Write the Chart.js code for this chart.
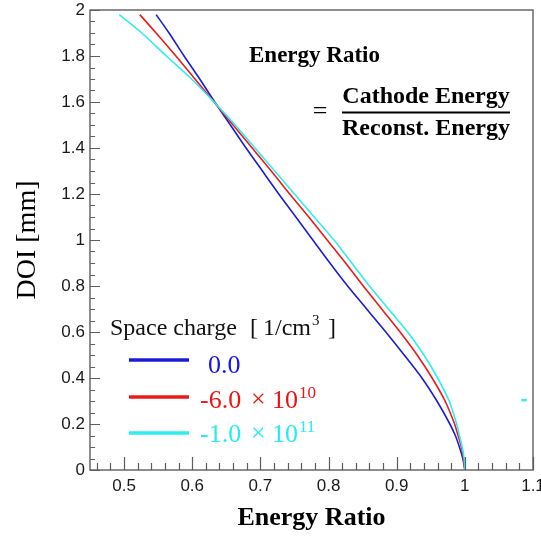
<!DOCTYPE html>
<html><head><meta charset="utf-8">
<script src="https://cdn.jsdelivr.net/npm/chart.js@4.4.1/dist/chart.umd.min.js"></script>
<style>html,body{margin:0;padding:0;background:#fff;overflow:hidden}</style>
</head><body>
<canvas id="c" width="541" height="539"></canvas>
<script>
// ---- data ----
const doi = [0, 0.05, 0.1, 0.15, 0.2, 0.3, 0.4, 0.5, 0.6, 0.7, 0.8, 0.9, 1.0, 1.1, 1.2, 1.3, 1.4, 1.5, 1.6, 1.7, 1.8, 1.9, 1.98];
const ratioSC0 = [1.0, 0.997, 0.992, 0.986, 0.978, 0.959, 0.937, 0.911, 0.884, 0.856, 0.828, 0.802, 0.777, 0.752, 0.727, 0.703, 0.679, 0.656, 0.633, 0.611, 0.588, 0.566, 0.547];
const ratioSC6e10 = [1.0, 0.998, 0.995, 0.990, 0.985, 0.971, 0.952, 0.930, 0.905, 0.878, 0.851, 0.825, 0.798, 0.771, 0.743, 0.716, 0.688, 0.660, 0.632, 0.604, 0.576, 0.547, 0.523];
const ratioSC1e11 = [1.0, 0.999, 0.996, 0.992, 0.988, 0.977, 0.960, 0.940, 0.916, 0.888, 0.860, 0.834, 0.808, 0.779, 0.750, 0.721, 0.692, 0.663, 0.632, 0.599, 0.562, 0.526, 0.493];
const strayMarkX = [1.083, 1.091];
const strayMarkY = [0.304, 0.304];
const seriesNames = ['0.0', '-6.0 × 10', '-1.0 × 10'];
const seriesExponents = ['', '10', '11'];
const xTickValues = [0.5, 0.6, 0.7, 0.8, 0.9, 1.0, 1.1];
const yTickValues = [0, 0.2, 0.4, 0.6, 0.8, 1.0, 1.2, 1.4, 1.6, 1.8, 2.0];

const COLORS = {blue: '#1c1cd4', red: '#ec1a1a', cyan: '#2eeef0'};
const TEXT_COLORS = {blue: '#1414f0', red: '#ee1212', cyan: '#22eef0'};

function pts(xs, ys) { return xs.map((x, i) => ({x: x, y: ys[i]})); }

const lineStyle = {showLine: true, pointRadius: 0, borderWidth: 1.6, tension: 0.3, fill: false};

const bgPlugin = {
  id: 'bg',
  beforeDraw(chart) {
    const ctx = chart.ctx;
    ctx.save(); ctx.fillStyle = '#fff'; ctx.fillRect(0, 0, chart.width, chart.height); ctx.restore();
  }
};

const framePlugin = {
  id: 'frame',
  afterDatasetsDraw(chart) {
    const {ctx, chartArea: a, scales: {x, y}} = chart;
    ctx.save();
    ctx.strokeStyle = '#5e5e5e';
    ctx.lineWidth = 1.4;
    ctx.strokeRect(a.left, a.top, a.right - a.left, a.bottom - a.top);
    ctx.lineWidth = 1.2;
    ctx.beginPath();
    for (let k = 23; k <= 55; k++) {
      const v = k * 0.02;
      if (v < x.min - 1e-9 || v > x.max + 1e-9) continue;
      const px = Math.round(x.getPixelForValue(v)) + 0.5;
      const major = (k % 5 === 0);
      ctx.moveTo(px, a.bottom);
      ctx.lineTo(px, a.bottom - (major ? 13 : 7));
    }
    for (let k = 0; k <= 40; k++) {
      const v = k * 0.05;
      const py = Math.round(y.getPixelForValue(v)) + 0.5;
      const major = (k % 4 === 0);
      ctx.moveTo(a.left, py);
      ctx.lineTo(a.left + (major ? 10 : 5), py);
    }
    ctx.stroke();
    ctx.restore();
  }
};

const annotPlugin = {
  id: 'annot',
  afterDraw(chart) {
    const ctx = chart.ctx;
    ctx.save();
    ctx.fillStyle = '#000';
    ctx.textBaseline = 'alphabetic';
    ctx.font = 'bold 23px "Liberation Serif"';
    ctx.textAlign = 'left';
    ctx.fillText('Energy Ratio', 249, 62);
    ctx.textAlign = 'center';
    ctx.font = 'bold 24px "Liberation Serif"';
    ctx.fillText('Cathode Energy', 426, 103);
    ctx.fillText('Reconst. Energy', 426, 135);
    ctx.fillRect(342, 111.5, 168, 2);
    ctx.font = '26px "Liberation Serif"';
    ctx.fillText('=', 320, 119);

    // legend header
    ctx.textAlign = 'left';
    ctx.font = '24px "Liberation Serif"';
    ctx.fillStyle = '#111';
    ctx.fillText('Space charge', 110, 335);
    ctx.fillText('[', 250, 335);
    ctx.fillText('1/cm', 263, 335);
    const wcm = ctx.measureText('1/cm').width;
    ctx.font = '15px "Liberation Serif"';
    ctx.fillText('3', 263 + wcm + 1, 325);
    ctx.font = '24px "Liberation Serif"';
    ctx.fillText(']', 328, 335);

    // legend entries
    const keys = ['blue', 'red', 'cyan'];
    const lineY = [360, 397, 433];
    const baseY = [373, 408, 442];
    keys.forEach((k, i) => {
      ctx.strokeStyle = COLORS[k];
      ctx.lineWidth = 3.5;
      ctx.beginPath();
      ctx.moveTo(129, lineY[i]);
      ctx.lineTo(189, lineY[i]);
      ctx.stroke();
      ctx.fillStyle = TEXT_COLORS[k];
      ctx.font = '26px "Liberation Serif"';
      const label = seriesNames[i];
      if (!seriesExponents[i]) {
        ctx.fillText(label, 208, baseY[i]);
      } else {
        const parts = label.split(' ');
        ctx.fillText(parts[0], 200, baseY[i]);
        ctx.fillText(parts[1], 251, baseY[i] - 1);
        ctx.fillText(parts[2], 272, baseY[i]);
        const w10 = ctx.measureText(parts[2]).width;
        ctx.font = '17px "Liberation Serif"';
        ctx.fillText(seriesExponents[i], 272 + w10 + 1, baseY[i] - 10);
      }
    });
    ctx.restore();
  }
};

new Chart(document.getElementById('c'), {
  type: 'scatter',
  data: {
    datasets: [
      Object.assign({label: seriesNames[2], data: pts(ratioSC1e11, doi), borderColor: COLORS.cyan, order: 0}, lineStyle),
      Object.assign({label: seriesNames[1], data: pts(ratioSC6e10, doi), borderColor: COLORS.red, order: 1}, lineStyle),
      Object.assign({label: seriesNames[0], data: pts(ratioSC0, doi), borderColor: COLORS.blue, order: 2}, lineStyle),
      Object.assign({label: 'mark', data: pts(strayMarkX, strayMarkY), borderColor: COLORS.cyan, order: 3}, lineStyle, {borderWidth: 2.5, tension: 0})
    ]
  },
  options: {
    responsive: false,
    animation: false,
    devicePixelRatio: 1,
    layout: {padding: {top: 10, right: 8, left: 0, bottom: 0}},
    plugins: {legend: {display: false}, tooltip: {enabled: false}},
    scales: {
      x: {
        type: 'linear', min: 0.45, max: 1.1,
        afterBuildTicks(scale) { scale.ticks = xTickValues.map(v => ({value: v})); },
        afterFit(scale) { scale.height = 69; scale.paddingLeft = 0; scale.paddingRight = 0; },
        grid: {display: false, drawTicks: false},
        border: {display: false},
        ticks: {
          autoSkip: false, maxRotation: 0, padding: 6,
          color: '#1a1a1a', font: {family: '"Liberation Sans", Arial', size: 17},
          callback: v => String(Math.round(v * 10) / 10)
        },
        title: {display: true, text: 'Energy Ratio', color: '#000',
          font: {family: '"Liberation Serif"', size: 26, weight: 'bold'}, padding: {top: 0, bottom: 5}}
      },
      y: {
        type: 'linear', min: 0, max: 2,
        afterBuildTicks(scale) { scale.ticks = yTickValues.map(v => ({value: v})); },
        afterFit(scale) { scale.width = 90; scale.paddingTop = 0; scale.paddingBottom = 0; },
        grid: {display: false, drawTicks: false},
        border: {display: false},
        ticks: {
          autoSkip: false, padding: 5,
          color: '#1a1a1a', font: {family: '"Liberation Sans", Arial', size: 17},
          callback: v => String(Math.round(v * 10) / 10)
        },
        title: {display: true, text: 'DOI [mm]', color: '#000',
          font: {family: '"Liberation Serif"', size: 28}, padding: {top: 11, bottom: 0}}
      }
    }
  },
  plugins: [bgPlugin, framePlugin, annotPlugin]
});
</script>
</body></html>
